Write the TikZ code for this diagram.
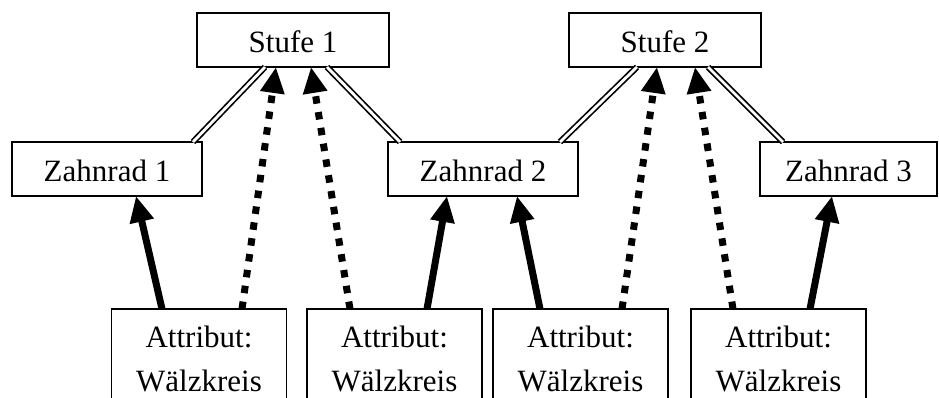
\documentclass[tikz,border=0pt]{standalone}
\usepackage{fontspec}
\setmainfont{Liberation Serif}
\usetikzlibrary{arrows.meta}
\begin{document}
\begin{tikzpicture}[x=1pt,y=-1pt,
  box/.style={draw,line width=1.8pt,inner sep=0pt,outer sep=0pt,
    font=\fontsize{31}{44}\selectfont},
  upbox/.style={box,minimum height=54pt,text height=26pt,text depth=0pt},
  attrbox/.style={box,anchor=north,minimum width=175pt,minimum height=100pt,align=center},
  link/.style={line width=1.7pt,double=white,double distance=2.8pt},
  tip/.style={-{Triangle[length=26pt,width=23pt]}},
  solidarrow/.style={tip,line width=7pt},
  dotarrow/.style={tip,line width=7pt,dash pattern=on 7.5pt off 8.5pt}]
\useasboundingbox (0,0) rectangle (939,398);
\clip (0,0) rectangle (939,398);

% stages
\node[upbox,minimum width=192pt] (s1) at (293,40) {Stufe 1};
\node[upbox,minimum width=192pt] (s2) at (665,40) {Stufe 2};

% gears
\node[upbox,minimum width=190pt] (z1) at (107,169) {Zahnrad 1};
\node[upbox,minimum width=190pt] (z2) at (483,169) {Zahnrad 2};
\node[upbox,minimum width=177pt] (z3) at (848.5,169) {Zahnrad 3};

% attributes
\node[attrbox] (b1) at (199,309) {Attribut:\\Wälzkreis};
\node[attrbox] (b2) at (394.5,309) {Attribut:\\Wälzkreis};
\node[attrbox] (b3) at (580.5,309) {Attribut:\\Wälzkreis};
\node[attrbox] (b4) at (778.5,309) {Attribut:\\Wälzkreis};

% stage to gear links
\draw[link] ([xshift=-28pt]s1.south) -- ([xshift=86pt]z1.north);
\draw[link] ([xshift=34pt]s1.south) -- ([xshift=-83pt]z2.north);
\draw[link] ([xshift=-28pt]s2.south) -- ([xshift=77pt]z2.north);
\draw[link] ([xshift=43pt]s2.south) -- ([xshift=-65.5pt]z3.north);

% attribute references
\draw[solidarrow] ([xshift=-37pt]b1.north) -- ([xshift=29pt]z1.south);
\draw[dotarrow] ([xshift=43pt]b1.north) -- ([xshift=-17pt]s1.south);
\draw[dotarrow] ([xshift=-44.5pt]b2.north) -- ([xshift=18pt]s1.south);
\draw[solidarrow] ([xshift=32.5pt]b2.north) -- ([xshift=-36pt]z2.south);
\draw[solidarrow] ([xshift=-40.5pt]b3.north) -- ([xshift=34pt]z2.south);
\draw[dotarrow] ([xshift=41.5pt]b3.north) -- ([xshift=-8pt]s2.south);
\draw[dotarrow] ([xshift=-45.5pt]b4.north) -- ([xshift=30pt]s2.south);
\draw[solidarrow] ([xshift=31.5pt]b4.north) -- ([xshift=-16.5pt]z3.south);
\end{tikzpicture}
\end{document}
